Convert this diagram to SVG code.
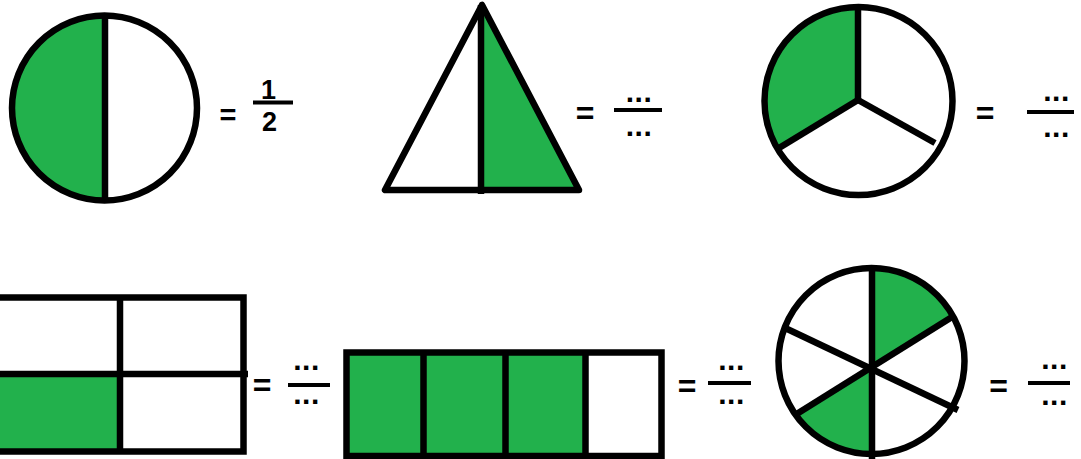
<svg xmlns="http://www.w3.org/2000/svg" width="1081" height="459" viewBox="0 0 1081 459">
<style>
.g{fill:#22b14c}
.w{fill:#ffffff}
.ol{fill:none;stroke:#000;stroke-width:6.5}
.ln{stroke:#000;stroke-width:6.5;fill:none}
.bar{stroke:#000;stroke-width:4}
.t{font-family:"Liberation Sans",Arial,sans-serif;font-weight:bold;fill:#000;text-anchor:middle}
.eq{font-size:32px}
.num{font-size:27px}
.dots{font-size:30px;letter-spacing:0.5px}
</style>
<rect width="1081" height="459" fill="#fff"/>

<g id="circle-half">
  <circle cx="104.5" cy="108" r="92.5" class="w"/>
  <path d="M105,15.5 A92.5,92.5 0 0 0 105,200.5 Z" class="g"/>
  <circle cx="104.5" cy="108" r="92.5" class="ol"/>
  <line x1="105" y1="13" x2="105" y2="203" class="ln"/>
  <text x="228" y="125" class="t eq" style="font-size:29px">=</text>
  <text x="268.5" y="98.5" class="t num">1</text>
  <line x1="253" y1="102.5" x2="293" y2="102.5" class="bar"/>
  <text x="269.5" y="131" class="t num">2</text>
</g>

<g id="triangle-half">
  <polygon points="482,5 385,190 579,190" class="w"/>
  <polygon points="482,5 482,190 579,190" class="g"/>
  <polygon points="482,5 385,190 579,190" class="ol" stroke-linejoin="round"/>
  <line x1="481" y1="5" x2="481" y2="194" class="ln"/>
  <text x="585" y="123.5" class="t eq">=</text>
  <text x="639" y="102" class="t dots">...</text>
  <line x1="614" y1="110" x2="662" y2="110" class="bar"/>
  <text x="639" y="136" class="t dots">...</text>
</g>

<g id="circle-third">
  <circle cx="858.5" cy="101" r="94" class="w"/>
  <path d="M858,100 L858.5,7 A94,94 0 0 0 777.5,148 Z" class="g"/>
  <circle cx="858.5" cy="101" r="94" class="ol"/>
  <line x1="858" y1="5" x2="858" y2="100" class="ln"/>
  <line x1="858" y1="100" x2="779" y2="148" class="ln"/>
  <line x1="858" y1="100" x2="935" y2="143" class="ln"/>
  <text x="985" y="124" class="t eq">=</text>
  <text x="1056.5" y="101" class="t dots">...</text>
  <line x1="1027" y1="112" x2="1074" y2="112" class="bar"/>
  <text x="1056.5" y="137" class="t dots">...</text>
</g>

<g id="grid-quarters">
  <rect x="0" y="297.5" width="243.5" height="154" class="w"/>
  <rect x="0" y="374" width="120" height="77" class="g"/>
  <rect x="-4" y="297.5" width="247.5" height="154" class="ol"/>
  <line x1="0" y1="374" x2="248" y2="374" class="ln"/>
  <line x1="120" y1="297.5" x2="120" y2="451.5" class="ln"/>
  <text x="262" y="396" class="t eq">=</text>
  <text x="306.5" y="370" class="t dots">...</text>
  <line x1="288" y1="385" x2="330" y2="385" class="bar"/>
  <text x="306.5" y="404" class="t dots">...</text>
</g>

<g id="bar-fourths">
  <rect x="346.5" y="352.5" width="315" height="103.5" class="w"/>
  <rect x="346.5" y="352.5" width="239" height="103.5" class="g"/>
  <rect x="346.5" y="352.5" width="315" height="103.5" class="ol" stroke-width="7"/>
  <line x1="423.5" y1="352.5" x2="423.5" y2="456" class="ln"/>
  <line x1="505.5" y1="352.5" x2="505.5" y2="456" class="ln"/>
  <line x1="585.5" y1="352.5" x2="585.5" y2="456" class="ln"/>
  <text x="687" y="396.5" class="t eq">=</text>
  <text x="731.5" y="370" class="t dots">...</text>
  <line x1="708" y1="383" x2="751" y2="383" class="bar"/>
  <text x="731.5" y="404" class="t dots">...</text>
</g>

<g id="circle-sixths">
  <circle cx="871.5" cy="361" r="93" class="w"/>
  <path d="M871,367 L871.5,268 A93,93 0 0 1 953,316.5 Z" class="g"/>
  <path d="M871,367 L871.5,454 A93,93 0 0 1 795.5,414.5 Z" class="g"/>
  <circle cx="871.5" cy="361" r="93" class="ol"/>
  <line x1="872" y1="265" x2="872" y2="459" class="ln"/>
  <line x1="783" y1="327" x2="958" y2="410" class="ln"/>
  <line x1="795" y1="415" x2="952" y2="317" class="ln"/>
  <text x="998.5" y="396.5" class="t eq">=</text>
  <text x="1054.5" y="369" class="t dots">...</text>
  <line x1="1028" y1="383" x2="1070" y2="383" class="bar"/>
  <text x="1054.5" y="405" class="t dots">...</text>
</g>
</svg>
